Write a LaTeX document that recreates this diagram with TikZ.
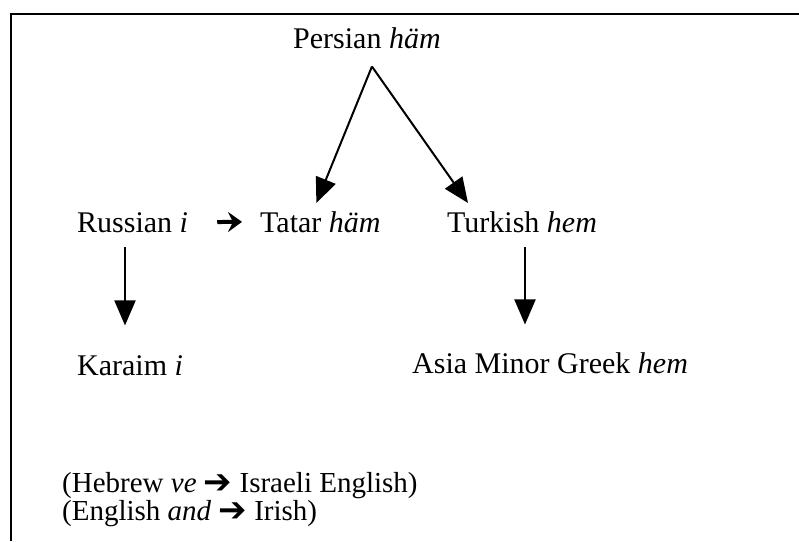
\documentclass[tikz,border=0pt]{standalone}
\usepackage{fontspec}
\setmainfont{Liberation Serif}
\newfontfamily\arrowfont{DejaVu Sans}
\usetikzlibrary{arrows.meta, positioning}
\newcommand{\rarr}{\smash{\arrowfont\fontsize{34}{34}\selectfont\raisebox{-1pt}{\symbol{"2794}}}}

\begin{document}
\begin{tikzpicture}[
  x=1pt, y=-1pt,
  lang/.style={anchor=base west, inner xsep=0pt, inner ysep=8pt,
               font=\fontsize{30}{34}\selectfont},
  notes/.style={anchor=base west, inner sep=0pt, align=left,
                font=\fontsize{29}{26}\selectfont},
  arr/.style={-{Triangle[length=25pt,width=21pt]}, line width=2pt},
  glypharr/.style={-{Stealth[length=14pt,width=20pt,inset=5pt]},
                   line width=4pt}
]
  \useasboundingbox (0,0) rectangle (799,541);
  % frame, cut off at the right and at the bottom
  \draw[line width=2pt] (10.5,541) |- (799,14);

  \node[lang] (persian) at (293,48)  {Persian \textit{häm}};
  \node[lang] (russian) at (77,232)  {Russian \textit{i}};
  \node[lang] (tatar)   at (260,232) {Tatar \textit{häm}};
  \node[lang] (turkish) at (447,232) {Turkish \textit{hem}};
  \node[lang] (karaim)  at (77,375)  {Karaim \textit{i}};
  \node[lang] (greek)   at (412,373) {Asia Minor Greek \textit{hem}};

  % base anchor sits on the last line
  \node[notes] (borrow) at (62,520)
    {(Hebrew \textit{ve} \rarr{} Israeli English)\\
     (English \textit{and} \rarr{} Irish)};

  \coordinate (apex) at ([xshift=5pt,yshift=-10pt]persian.south);
  \draw[arr] (apex) -- ([xshift=-4pt]tatar.north);
  \draw[arr] (apex) -- ([xshift=21pt]turkish.north west);
  \draw[glypharr, shorten <=29pt, shorten >=18pt] (russian.east) -- (tatar.west);
  \draw[arr] ([xshift=48pt,yshift=-7pt]russian.south west)
          -- ([xshift=48pt,yshift=21.5pt]karaim.north west);
  \draw[arr] ([xshift=78pt,yshift=-7pt]turkish.south west)
          -- ([xshift=113pt,yshift=19.5pt]greek.north west);
\end{tikzpicture}
\end{document}
